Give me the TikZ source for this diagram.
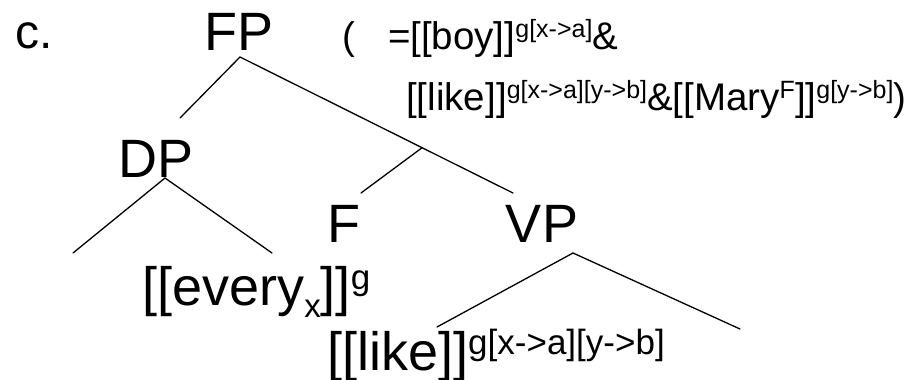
\documentclass[tikz,border=0pt]{standalone}
\usepackage{fontspec}
\setmainfont{Liberation Sans}
\usetikzlibrary{calc}

% raised / lowered bits of the labels
\newcommand{\bigsup}[1]{\raisebox{16pt}{\fontsize{35}{40}\selectfont #1}}
\newcommand{\bigsub}[1]{\raisebox{-12pt}{\fontsize{33}{38}\selectfont #1}}
\newcommand{\annsup}[1]{\raisebox{12pt}{\fontsize{25}{28}\selectfont #1}}

\tikzset{
  cat/.style={font=\fontsize{54}{60}\selectfont, inner sep=0pt, anchor=base},
  leaf/.style={font=\fontsize{54}{60}\selectfont, inner sep=0pt, anchor=base west},
  ann/.style={font=\fontsize{38.5}{44}\selectfont, inner sep=0pt, anchor=base west},
  branch/.style={line width=1.3pt, line cap=round}
}

\begin{document}
\begin{tikzpicture}[x=1pt,y=-1pt]
  \useasboundingbox (0,0) rectangle (910,380);%

  \node[ann, font=\fontsize{48}{54}\selectfont] (ex) at (15,48) {c.};%
  \node[cat] (FP) at (239,50) {FP};%
  \node[cat] (DP) at (156,177) {DP};%
  \node[cat] (F) at (344,242) {F};%
  \node[cat] (VP) at (542,242) {VP};%
  \node[leaf] (every) at (142,305) {[[every\bigsub{x}]]\bigsup{g}};%
  \node[leaf] (like) at (327,370) {[[like]]\bigsup{g[x->a][y->b]}};%

  \node[ann] (ann1) at (342,49) {(\hspace{33pt}=[[boy]]\annsup{g[x->a]}\&};%
  \node[ann] (ann2) at (406,110)
    {[[like]]\annsup{g[x->a][y->b]}\&[[Mary\annsup{F}]]\annsup{g[y->b]})};%

  % ends of the branches
  \coordinate (FP-b) at (240,57); \coordinate (DP-t) at (180,118);%
  \coordinate (VP-t) at (513,193); \coordinate (F-t) at (361,193);%
  \coordinate (J) at ($(FP-b)!0.667!(VP-t)$);%
  \coordinate (DP-b) at (165,178);%
  \coordinate (DP-l) at (73,253); \coordinate (DP-r) at (272,253);%
  \coordinate (VP-b) at (573,253);%
  \coordinate (VP-l) at (437,327); \coordinate (VP-r) at (740,329);%

  \foreach \a/\b in {FP-b/DP-t, FP-b/VP-t, J/F-t, DP-b/DP-l, DP-b/DP-r,
    VP-b/VP-l, VP-b/VP-r} {%
    \draw[branch] (\a) -- (\b); }%
\end{tikzpicture}
\end{document}
